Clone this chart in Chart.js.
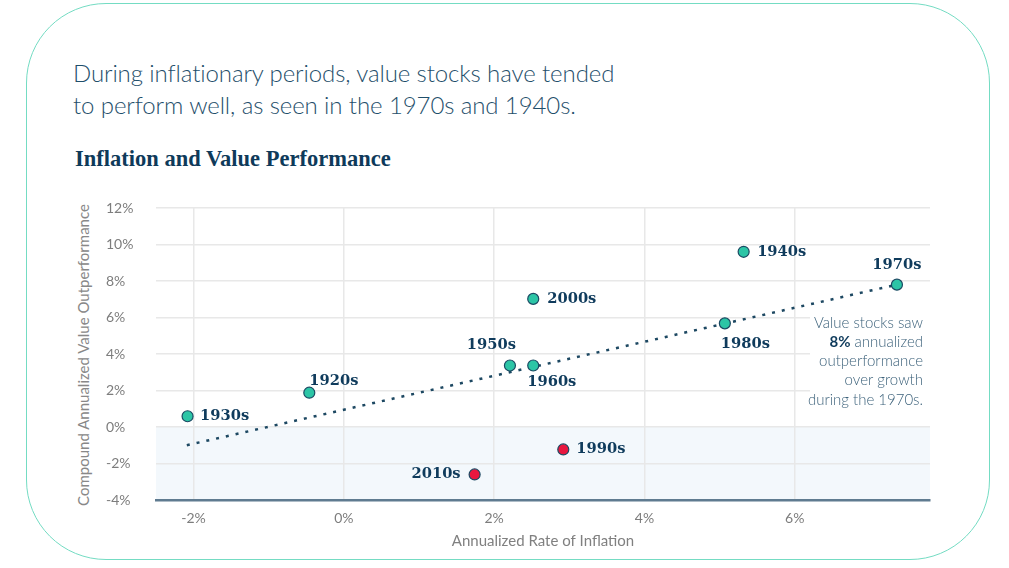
<!DOCTYPE html>
<html>
<head>
<meta charset="utf-8">
<script src="https://cdn.jsdelivr.net/npm/chart.js@4.4.1/dist/chart.umd.min.js"></script>
<style>
    html, body { margin: 0; padding: 0; background: #fff; width: 1009px; height: 568px; overflow: hidden; }
    #frame { position: absolute; left: 26px; top: 3px; width: 962px; height: 555px; border: 1.5px solid #74dcc3; border-radius: 80px; }
    #headline { position: absolute; left: 73px; top: 57px; font-family: Lato; font-weight: 300; font-size: 24px; line-height: 32px; color: #1f4f6b; letter-spacing: -0.1px; }
    #title { position: absolute; left: 75px; top: 146px; font-family: "Liberation Serif"; font-weight: bold; font-size: 22.5px; line-height: 26px; color: #0e3a5a; }
    #ytitle { position: absolute; left: 83px; top: 355px; transform: translate(-50%, -50%) rotate(-90deg); white-space: nowrap; font-family: Lato; font-size: 15px; color: #888; }
    canvas { position: absolute; left: 0; top: 0; }
</style>
</head>
<body>
<div id="frame"></div>
<div id="headline">During inflationary periods, value stocks have tended<br>to perform well, as seen in the 1970s and 1940s.</div>
<div id="title">Inflation and Value Performance</div>
<div id="ytitle">Compound Annualized Value Outperformance</div>
<canvas id="chartInflation" width="1009" height="568"></canvas>
<script>
"use strict";
/* DATA */
const decades = ["1920s", "1930s", "1940s", "1950s", "1960s", "1970s", "1980s", "1990s", "2000s", "2010s"];
const inflation = [-0.46, -2.08, 5.32, 2.21, 2.52, 7.36, 5.07, 2.92, 2.52, 1.74];
const valuePremium = [1.88, 0.59, 9.6, 3.37, 3.37, 7.8, 5.68, -1.23, 7.02, -2.6];
const trendX = [-2.09, 7.36];
const trendY = [-1.0, 7.8];
const xTicks = [-2, 0, 2, 4, 6];
const yTicks = [-4, -2, 0, 2, 4, 6, 8, 10, 12];
const noteLines = ["Value stocks saw", "8%| annualized", "outperformance", "over growth", "during the 1970s."];

/* LABEL PLACEMENT (dx, dy, align) per decade */
const labelPlacement = [
    [0, -12, "left"], [12.5, 0, "left"], [13.5, 0, "left"], [6, -20, "right"], [-6, 17, "left"],
    [0, -19, "center"], [-4, 21, "left"], [13, 0, "left"], [14, 0, "left"], [-14, 0, "right"]
];

const sansFont = "Lato";
const navy = "#0f3b5c";

/* SHADED NEGATIVE ZONE */
const shadePlugin = {
    id: "shade",
    beforeDraw(chart) {
        const { ctx, chartArea, scales } = chart;
        const y0 = scales.y.getPixelForValue(0);
        ctx.save();
        ctx.fillStyle = "#f3f8fc";
        ctx.fillRect(chartArea.left, y0, chartArea.right - chartArea.left, chartArea.bottom - y0);
        ctx.restore();
    }
};

/* NOTE BOX */
const notePlugin = {
    id: "note",
    beforeDatasetsDraw(chart) {
        const { ctx, chartArea } = chart;
        const right = chartArea.right;
        ctx.save();
        ctx.fillStyle = "#fff";
        ctx.fillRect(right - 120, chartArea.top + 87, 120, 120);
        ctx.textBaseline = "middle";
        noteLines.forEach((line, i) => {
            const y = chartArea.top + 115 + i * 19.2;
            const x = right - 7;
            if (line.includes("|")) {
                const parts = line.split("|");
                ctx.font = "300 15px " + sansFont;
                const restW = ctx.measureText(parts[1]).width;
                ctx.fillStyle = "#3d627b";
                ctx.textAlign = "right";
                ctx.fillText(parts[1], x, y);
                ctx.font = "bold 15px " + sansFont;
                ctx.fillStyle = navy;
                ctx.fillText(parts[0], x - restW, y);
            }
            else {
                ctx.font = "300 15px " + sansFont;
                ctx.fillStyle = "#3d627b";
                ctx.textAlign = "right";
                ctx.fillText(line, x, y);
            }
        });
        ctx.restore();
    }
};

/* DECADE LABELS */
const labelPlugin = {
    id: "decadeLabels",
    afterDatasetsDraw(chart) {
        const { ctx } = chart;
        const meta = chart.getDatasetMeta(0);
        ctx.save();
        ctx.font = "bold 14.7px 'DejaVu Serif'";
        ctx.fillStyle = navy;
        ctx.textBaseline = "middle";
        meta.data.forEach((point, i) => {
            const [dx, dy, align] = labelPlacement[i];
            ctx.textAlign = align;
            ctx.fillText(decades[i], point.x + dx, point.y + dy);
        });
        ctx.restore();
    }
};

function pct(v) {
    return v + "%";
}

document.addEventListener("DOMContentLoaded", () => {
    const canvas = document.getElementById("chartInflation");
    new Chart(canvas, {
        type: "scatter",
        data: {
            datasets: [
                {
                    label: "Decades",
                    data: decades.map((d, i) => ({ x: inflation[i], y: valuePremium[i] })),
                    backgroundColor: valuePremium.map(v => v < 0 ? "#e8173f" : "#2cc5a6"),
                    borderColor: "#1b4a63",
                    borderWidth: 1.2,
                    pointRadius: 5.5,
                    order: 1
                },
                {
                    label: "Trend",
                    data: trendX.map((x, i) => ({ x: x, y: trendY[i] })),
                    showLine: true,
                    borderColor: "#1d4862",
                    borderWidth: 2.5,
                    borderDash: [3, 7],
                    pointRadius: 0,
                    order: 2
                }
            ]
        },
        options: {
            responsive: false,
            animation: false,
            layout: { padding: { left: 106, right: 79, top: 208, bottom: 8 } },
            plugins: { legend: { display: false }, tooltip: { enabled: false } },
            scales: {
                x: {
                    type: "linear",
                    min: -2.5,
                    max: 7.8,
                    afterBuildTicks: s => { s.ticks = xTicks.map(v => ({ value: v })); },
                    afterFit: s => { s.height = 60; },
                    grid: { color: "#e8e8e8", lineWidth: 1.5, drawTicks: false },
                    border: { display: true, color: "#5f7b90", width: 2.5 },
                    ticks: { padding: 10, color: "#7d7d7d", font: { family: sansFont, size: 14 }, callback: pct },
                    title: {
                        display: true,
                        text: "Annualized Rate of Inflation",
                        color: "#808080",
                        font: { family: sansFont, size: 15 },
                        padding: { top: 0, bottom: 10 }
                    }
                },
                y: {
                    type: "linear",
                    min: -4,
                    max: 12,
                    afterBuildTicks: s => { s.ticks = yTicks.map(v => ({ value: v })); },
                    afterFit: s => { s.width = 50; },
                    grid: { color: "#e8e8e8", lineWidth: 1.5, drawTicks: false },
                    border: { display: false },
                    ticks: { crossAlign: "far", padding: 0, color: "#7d7d7d", font: { family: sansFont, size: 14 }, callback: pct }
                }
            }
        },
        plugins: [shadePlugin, notePlugin, labelPlugin]
    });
});
</script>
</body>
</html>
